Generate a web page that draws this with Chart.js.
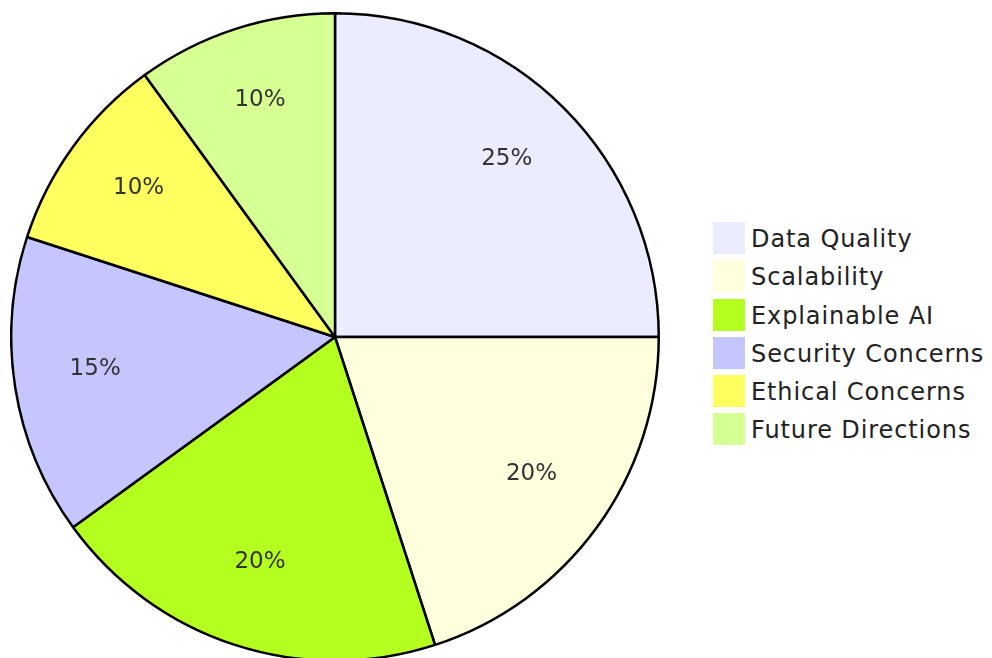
<!DOCTYPE html>
<html>
<head>
<meta charset="utf-8">
<script src="https://cdn.jsdelivr.net/npm/chart.js@4"></script>
<style>
  html, body { margin: 0; padding: 0; background: #fff; overflow: hidden; width: 992px; height: 658px; }
  #wrap { position: absolute; left: 10px; top: 12px; width: 650px; height: 650px; }
  #legend { position: absolute; left: 713px; top: 222px; font-family: "DejaVu Sans", sans-serif; font-size: 24px; letter-spacing: 0.9px; color: #222; }
  .item { display: flex; align-items: flex-start; height: 38.3px; }
  .box { width: 32px; height: 32px; margin-right: 6px; flex: none; }
  .txt { line-height: 32px; margin-top: 1px; }
</style>
</head>
<body>
<div id="wrap"><canvas id="myChart"></canvas></div>
<div id="legend"></div>
<script>
// chart data
const labels = ["Data Quality", "Scalability", "Explainable AI", "Security Concerns", "Ethical Concerns", "Future Directions"];
const values = [25, 20, 20, 15, 10, 10];
const colors = ["#ECECFF", "#FFFFDE", "#B5FF20", "#C6C6FF", "#FFFF60", "#D6FF94"];

// draws the percentage text inside each slice (baseline sits on 3/4 of the radius)
const sliceLabels = {
    id: "sliceLabels",
    afterDatasetsDraw(chart) {
        const ctx = chart.ctx;
        const meta = chart.getDatasetMeta(0);
        const total = values.reduce((a, b) => a + b, 0);
        ctx.save();
        ctx.font = '23px "DejaVu Sans", sans-serif';
        ctx.fillStyle = "#333";
        ctx.textAlign = "center";
        ctx.textBaseline = "alphabetic";
        meta.data.forEach(function (arc, i) {
            const p = arc.getProps(["x", "y", "startAngle", "endAngle", "outerRadius"], true);
            const mid = (p.startAngle + p.endAngle) / 2;
            const r = p.outerRadius * 0.75;
            const pct = Math.round(values[i] / total * 100) + "%";
            ctx.fillText(pct, p.x + Math.cos(mid) * r, p.y + Math.sin(mid) * r);
        });
        ctx.restore();
    }
};

const ctx = document.getElementById("myChart").getContext("2d");
const myChart = new Chart(ctx, {
    type: "pie",
    data: {
        labels: labels,
        datasets: [{
            data: values,
            backgroundColor: colors,
            borderColor: "#000",
            borderWidth: 2.5
        }]
    },
    options: {
        responsive: true,
        maintainAspectRatio: false,
        animation: false,
        plugins: {
            legend: { display: false },
            tooltip: { enabled: false }
        }
    },
    plugins: [sliceLabels]
});

// legend on the right built from the same arrays
const legend = document.getElementById("legend");
labels.forEach(function (name, i) {
    const item = document.createElement("div");
    item.className = "item";
    item.innerHTML = '<span class="box" style="background:' + colors[i] + '"></span><span class="txt"></span>';
    item.lastChild.textContent = name;
    legend.appendChild(item);
});
</script>
</body>
</html>
